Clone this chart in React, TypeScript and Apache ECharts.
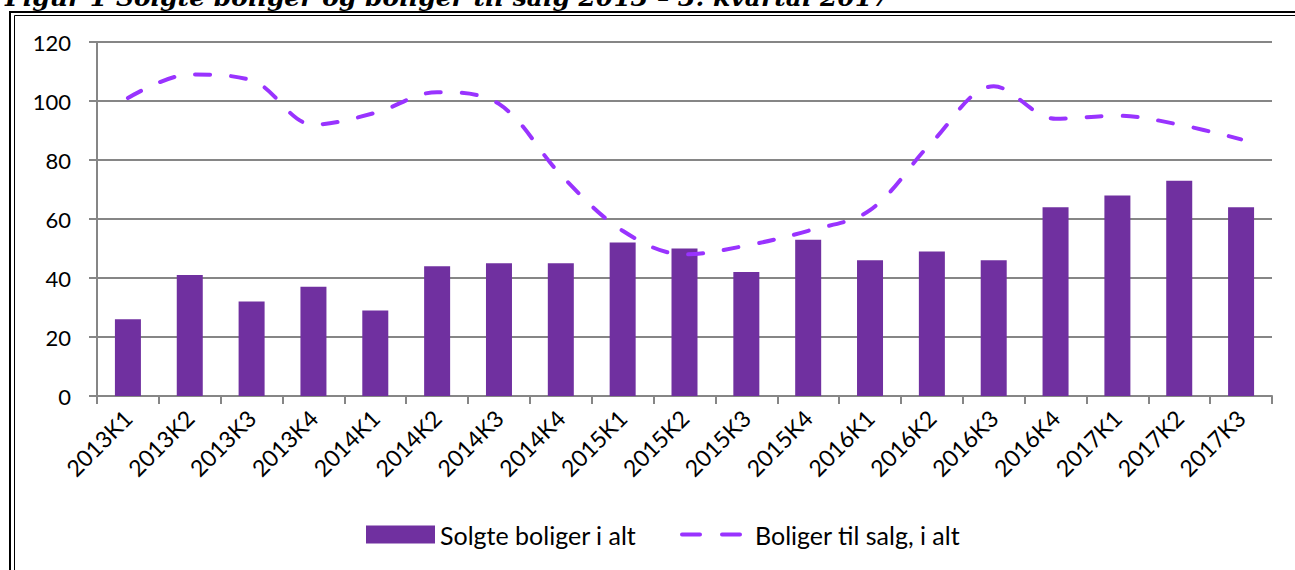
import React, { useEffect, useRef } from 'react';
import * as echarts from 'echarts';

const titleText = 'Figur 1 Solgte boliger og boliger til salg 2013 – 3. kvartal 2017';

const categories = [
  '2013K1', '2013K2', '2013K3', '2013K4',
  '2014K1', '2014K2', '2014K3', '2014K4',
  '2015K1', '2015K2', '2015K3', '2015K4',
  '2016K1', '2016K2', '2016K3', '2016K4',
  '2017K1', '2017K2', '2017K3',
];

const soldName = 'Solgte boliger i alt';
const forSaleName = 'Boliger til salg, i alt';

const soldValues = [26, 41, 32, 37, 29, 44, 45, 45, 52, 50, 42, 53, 46, 49, 46, 64, 68, 73, 64];
const forSaleValues = [101, 109, 107, 92, 96, 103, 99, 75, 56, 48, 51, 56, 63, 86, 105, 94, 95, 92, 87];

const yMin = 0;
const yMax = 120;
const yInterval = 20;

const FONT = 'Lato, "Noto Sans", sans-serif';
const DASH_ICON =
  'path://M2,0 H20 A2,2 0 0 1 20,4 H2 A2,2 0 0 1 2,0 Z M42,0 H60 A2,2 0 0 1 60,4 H42 A2,2 0 0 1 42,0 Z';

export default function App() {
  const ref = useRef<HTMLDivElement>(null);

  useEffect(() => {
    document.body.style.margin = '0';
    if (!ref.current) return;
    const chart = echarts.init(ref.current, null, { renderer: 'svg' });
    chart.setOption({
      animation: false,
      backgroundColor: '#ffffff',
      grid: { left: 97, right: 23, top: 42, bottom: 174, containLabel: false },
      graphic: [
        {
          type: 'text',
          left: 5,
          top: -15,
          style: {
            text: titleText,
            font: 'italic bold 25px "DejaVu Serif", serif',
            fill: '#000',
          },
        },
        {
          type: 'rect',
          shape: { x: 10, y: 12, width: 1400, height: 700 },
          style: { fill: 'none', stroke: '#000', lineWidth: 2 },
        },
        {
          type: 'rect',
          shape: { x: 14.5, y: 15.5, width: 1400, height: 700 },
          style: { fill: 'none', stroke: '#000', lineWidth: 1 },
        },
      ],
      legend: [
        {
          data: [soldName],
          left: 361,
          top: 517,
          itemWidth: 69,
          itemHeight: 18,
          icon: 'rect',
          textStyle: { fontFamily: FONT, fontSize: 25, color: '#000' },
          selectedMode: false,
        },
        {
          data: [{ name: forSaleName, icon: DASH_ICON }],
          left: 675,
          top: 517,
          itemWidth: 62,
          itemHeight: 5,
          itemGap: 10,
          textStyle: { fontFamily: FONT, fontSize: 25, color: '#000', padding: [0, 0, 0, 8] },
          selectedMode: false,
        },
      ],
      xAxis: {
        type: 'category',
        data: categories,
        boundaryGap: true,
        axisLine: { show: true, lineStyle: { color: '#868686', width: 2 } },
        axisTick: { show: true, length: 8, lineStyle: { color: '#868686', width: 2 } },
        axisLabel: {
          rotate: 45,
          interval: 0,
          margin: 18,
          fontFamily: FONT,
          fontSize: 23,
          color: '#000',
        },
        splitLine: { show: false },
      },
      yAxis: {
        type: 'value',
        min: yMin,
        max: yMax,
        interval: yInterval,
        axisLine: { show: true, lineStyle: { color: '#868686', width: 2 } },
        axisTick: { show: true, length: 8, lineStyle: { color: '#868686', width: 2 } },
        axisLabel: { margin: 26, fontFamily: FONT, fontSize: 22, color: '#000' },
        splitLine: { show: true, lineStyle: { color: '#868686', width: 2 } },
      },
      series: [
        {
          name: soldName,
          type: 'bar',
          data: soldValues,
          barWidth: 26,
          itemStyle: { color: '#7030A0' },
        },
        {
          name: forSaleName,
          type: 'line',
          data: forSaleValues,
          smooth: 0.35,
          symbol: 'none',
          lineStyle: { color: '#9933FF', width: 4, type: [15, 21], cap: 'round' },
          itemStyle: { color: '#9933FF' },
        },
      ],
    });
    return () => chart.dispose();
  }, []);

  return (
    <div
      ref={ref}
      style={{ position: 'absolute', left: 0, top: 0, width: 1295, height: 570 }}
    />
  );
}
